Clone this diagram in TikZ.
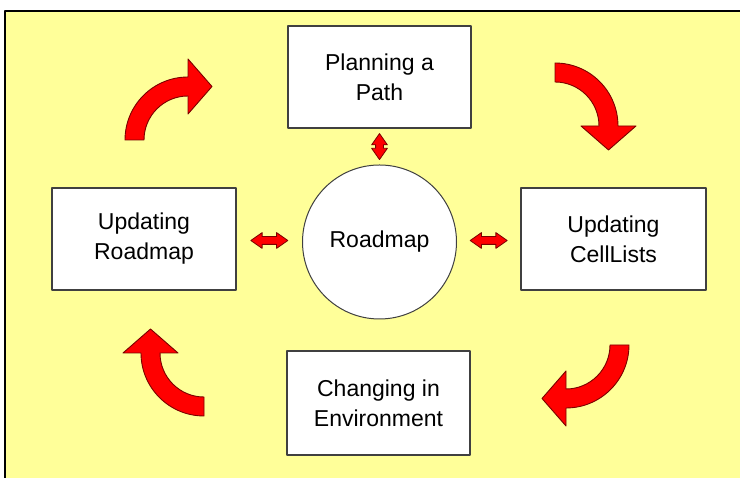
\documentclass[tikz,border=0pt]{standalone}
\usepackage{fontspec}
\setmainfont{Liberation Sans}
\usetikzlibrary{shapes.arrows,calc}
\definecolor{paper}{HTML}{FFFF99}
\definecolor{arrowred}{HTML}{FF0000}
\definecolor{arrowrim}{HTML}{7A0000}
\definecolor{rim}{HTML}{404040}
% curved arrow: centre of the bend, turn
\newcommand{\bendarrow}[2]{%
  \filldraw[fill=arrowred,draw=arrowrim,line width=0.9pt,shift={#1},rotate=#2]
    (180:63) arc[start angle=180,end angle=90,radius=63] -- (0,81) -- (24,53.5)
    -- (0,26) -- (0,44) arc[start angle=90,end angle=180,radius=44] -- cycle;}
\begin{document}
\begin{tikzpicture}[x=1pt,y=1pt,line join=round,
  font=\fontsize{23}{30}\selectfont,
  box/.style={draw=rim,fill=white,line width=1.3pt,minimum width=183pt,
    minimum height=102pt,inner sep=0pt,align=center},
  hub/.style={circle,draw=rim,fill=white,line width=1pt,minimum size=154pt,inner sep=0pt},
  dblarrow/.style={double arrow,fill=arrowred,draw=arrowrim,line width=0.8pt,
    minimum height=37pt,minimum width=0pt,inner xsep=0pt,inner ysep=3.5pt,
    double arrow head extend=4pt,double arrow tip angle=70}]
  \useasboundingbox (0,0) rectangle (740,478);
  \fill[paper] (5,0) rectangle (740,467);
  \draw[line width=1.2pt] (5,0) -- (5,467) -- (740,467);
  \node[box] (plan) at (379.5,401) {Planning a\\Path};
  \node[box,minimum width=184pt] (roadupd) at (144,239) {Updating\\Roadmap};
  \node[box,minimum width=185pt] (cellupd) at (613.5,239) {Updating\\CellLists};
  \node[box,minimum height=104pt] (envchg) at (378.5,75) {Changing in\\Environment};
  \node[hub] (map) at (379.5,236) {Roadmap};
  \node[dblarrow] (la) at ($(roadupd.east)!0.5!(map.west)$) {};
  \node[dblarrow] (ra) at ($(map.east)!0.5!(cellupd.west)$) {};
  \node[dblarrow,minimum height=26pt,rotate=90] (ta) at ($(plan.south)!0.5!(map.north)$) {};
  \bendarrow{(188,338)}{0}
  \bendarrow{(555,352)}{-90}
  \bendarrow{(566,133)}{180}
  \bendarrow{(204,125)}{90}
\end{tikzpicture}
\end{document}
